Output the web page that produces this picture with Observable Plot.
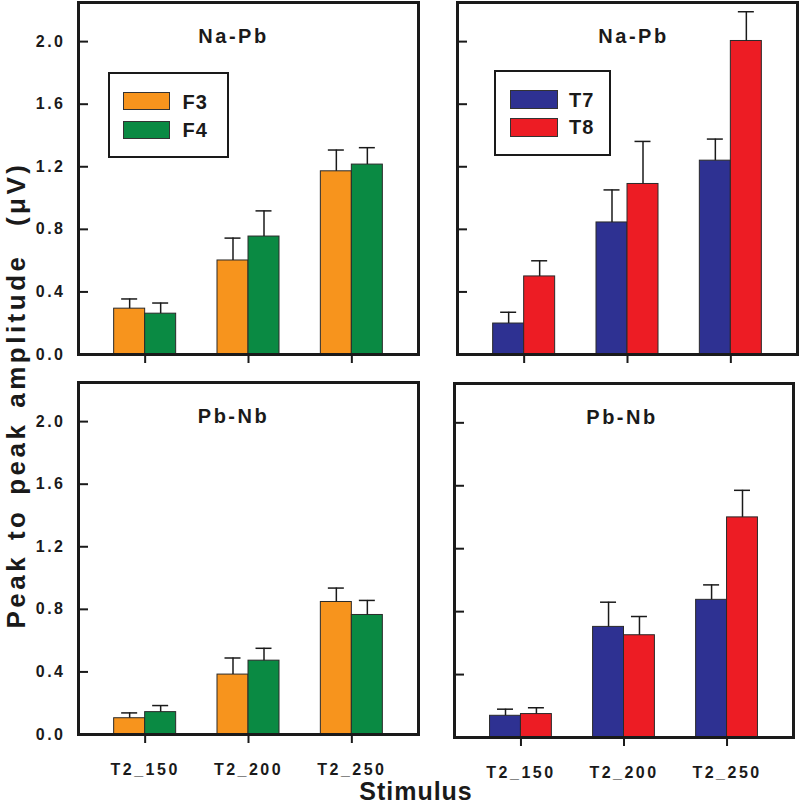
<!DOCTYPE html>
<html><head><meta charset="utf-8">
<script src="https://cdn.jsdelivr.net/npm/d3@7"></script>
<script src="https://cdn.jsdelivr.net/npm/@observablehq/plot@0.6"></script>
<style>
html,body{margin:0;padding:0;background:#fff;overflow:hidden}
#chart{position:relative;width:800px;height:807px;font-family:"Liberation Sans",Arial,sans-serif;color:#1a1a1a;overflow:hidden}
.panel{position:absolute}
.panel svg{max-width:none;display:block}
.panel svg text{letter-spacing:2.5px}
.legend{position:absolute;box-sizing:border-box;border:2.5px solid #1a1a1a;background:#fff}
.sw{position:absolute;box-sizing:border-box;border:1px solid #333}
.lab{position:absolute;font-size:20px;font-weight:bold;line-height:20px;letter-spacing:1px;white-space:nowrap}
.ytitle{position:absolute;width:600px;height:30px;line-height:30px;text-align:center;font-size:26px;font-weight:bold;letter-spacing:3.5px;word-spacing:3px;white-space:pre;transform:rotate(-90deg)}
.xtitle{position:absolute;width:200px;height:20px;line-height:20px;text-align:center;font-size:25px;font-weight:bold;letter-spacing:1px}
</style></head><body><div id="chart"></div><script>
// ---- data ----
const stimuli = ["T2_150", "T2_200", "T2_250"];
const yTicks = [0, 0.4, 0.8, 1.2, 1.6, 2.0];
const frontalSeries = ["F3", "F4"];
const temporalSeries = ["T7", "T8"];
const frontalColors = ["#F7941D", "#0A8A43"];
const temporalColors = ["#2E3192", "#ED1C24"];
const rowTitles = ["Na-Pb", "Pb-Nb"];

// Na-Pb (top row)
const naPbF3 = [0.293, 0.601, 1.171];
const naPbF3Err = [0.062, 0.143, 0.136];
const naPbF4 = [0.261, 0.754, 1.214];
const naPbF4Err = [0.068, 0.164, 0.108];
const naPbT7 = [0.198, 0.844, 1.239];
const naPbT7Err = [0.072, 0.208, 0.138];
const naPbT8 = [0.499, 1.090, 2.004];
const naPbT8Err = [0.100, 0.272, 0.187];
// Pb-Nb (bottom row)
const pbNbF3 = [0.104, 0.383, 0.847];
const pbNbF3Err = [0.034, 0.106, 0.089];
const pbNbF4 = [0.143, 0.472, 0.764];
const pbNbF4Err = [0.042, 0.079, 0.093];
const pbNbT7 = [0.138, 0.703, 0.875];
const pbNbT7Err = [0.042, 0.157, 0.095];
const pbNbT8 = [0.149, 0.650, 1.399];
const pbNbT8Err = [0.040, 0.119, 0.172];

function rows(seriesNames, valsA, errA, valsB, errB) {
  const out = [];
  stimuli.forEach((s, i) => {
    out.push({stim: s, series: seriesNames[0], value: valsA[i], err: errA[i]});
    out.push({stim: s, series: seriesNames[1], value: valsB[i], err: errB[i]});
  });
  return out;
}

const chart = document.getElementById("chart");
const yMax = 2.25;

function panel({data, seriesNames, colors, title, box, yLabels, xLabels, titleDx}) {
  const {left, top, w, h} = box;
  const mL = yLabels ? left : 3, mR = 3, mT = 2, mB = xLabels ? 52 : 14;
  const pi = 0.4, po = 0.345;
  const step = w / (stimuli.length - pi + 2 * po);
  const bw = step * (1 - pi);
  const half = bw / 2, q = bw / 4, capHalf = 8;
  const A = data.filter(d => d.series === seriesNames[0]);
  const B = data.filter(d => d.series === seriesNames[1]);
  const ink = "#1a1a1a";
  const plot = Plot.plot({
    width: mL + w + mR, height: mT + h + mB,
    marginLeft: mL, marginRight: mR, marginTop: mT, marginBottom: mB,
    style: {background: "transparent", color: ink, fontFamily: '"Liberation Sans", Arial, sans-serif', overflow: "visible"},
    x: {domain: stimuli, paddingInner: pi, paddingOuter: po, round: false, axis: null},
    y: {domain: [0, yMax], axis: null},
    color: {domain: seriesNames, range: colors},
    marks: [
      Plot.barY(A, {x: "stim", y: "value", fill: "series", insetRight: half, stroke: "#2a2a2a", strokeWidth: 1}),
      Plot.barY(B, {x: "stim", y: "value", fill: "series", insetLeft: half, stroke: "#2a2a2a", strokeWidth: 1}),
      Plot.ruleX(A, {x: "stim", y1: "value", y2: d => d.value + d.err, dx: -q, stroke: ink, strokeWidth: 1.5}),
      Plot.ruleX(B, {x: "stim", y1: "value", y2: d => d.value + d.err, dx: q, stroke: ink, strokeWidth: 1.5}),
      Plot.tickY(A, {x: "stim", y: d => d.value + d.err, insetLeft: q - capHalf, insetRight: 3 * q - capHalf, stroke: ink, strokeWidth: 1.5}),
      Plot.tickY(B, {x: "stim", y: d => d.value + d.err, insetLeft: 3 * q - capHalf, insetRight: q - capHalf, stroke: ink, strokeWidth: 1.5}),
      Plot.ruleY(yTicks, {y: d => d, insetRight: w - 10, stroke: ink, strokeWidth: 2}),
      Plot.axisX({tickSize: 9, strokeWidth: 2, tickPadding: 20, tickFormat: xLabels ? (d => d) : (() => ""), fontSize: 16, fontWeight: "bold", label: null}),
      yLabels ? Plot.axisY(yTicks, {tickSize: 0, tickPadding: 13, tickFormat: d3.format(".1f"), fontSize: 16, fontWeight: "bold", label: null}) : null,
      Plot.text([title], {frameAnchor: "top", dy: 26.6, dx: titleDx, fontSize: 20, fontWeight: "bold", fill: ink}),
      Plot.frame({stroke: ink, strokeWidth: 3})
    ]
  });
  const div = document.createElement("div");
  div.className = "panel";
  div.style.left = (left - mL) + "px";
  div.style.top = (top - mT) + "px";
  div.appendChild(plot);
  chart.appendChild(div);
}

panel({data: rows(frontalSeries, naPbF3, naPbF3Err, naPbF4, naPbF4Err), seriesNames: frontalSeries, colors: frontalColors,
  title: rowTitles[0], box: {left: 78, top: 2, w: 340, h: 352}, yLabels: true, xLabels: false, titleDx: -15});
panel({data: rows(temporalSeries, naPbT7, naPbT7Err, naPbT8, naPbT8Err), seriesNames: temporalSeries, colors: temporalColors,
  title: rowTitles[0], box: {left: 457, top: 2, w: 340, h: 352}, yLabels: false, xLabels: false, titleDx: 6});
panel({data: rows(frontalSeries, pbNbF3, pbNbF3Err, pbNbF4, pbNbF4Err), seriesNames: frontalSeries, colors: frontalColors,
  title: rowTitles[1], box: {left: 78, top: 382, w: 340, h: 352}, yLabels: true, xLabels: true, titleDx: -15});
panel({data: rows(temporalSeries, pbNbT7, pbNbT7Err, pbNbT8, pbNbT8Err), seriesNames: temporalSeries, colors: temporalColors,
  title: rowTitles[1], box: {left: 454, top: 383, w: 339, h: 354}, yLabels: false, xLabels: true, titleDx: -2});

// legends (inside top panels)
function legend(box, swatches, labels, names, colors) {
  const lg = document.createElement("div");
  lg.className = "legend";
  Object.assign(lg.style, {left: box.x + "px", top: box.y + "px", width: box.w + "px", height: box.h + "px"});
  chart.appendChild(lg);
  names.forEach((n, i) => {
    const sw = document.createElement("div");
    sw.className = "sw";
    Object.assign(sw.style, {left: swatches.x + "px", top: swatches.y[i] + "px", width: swatches.w + "px", height: swatches.h + "px", background: colors[i]});
    chart.appendChild(sw);
    const lb = document.createElement("div");
    lb.className = "lab";
    lb.textContent = n;
    Object.assign(lb.style, {left: labels.x + "px", top: labels.y[i] + "px"});
    chart.appendChild(lb);
  });
}
legend({x: 108, y: 72, w: 121, h: 86}, {x: 123, y: [92, 120.5], w: 47, h: 18}, {x: 182.5, y: [92, 119.8]}, frontalSeries, frontalColors);
legend({x: 494, y: 70, w: 117, h: 86}, {x: 510, y: [89.5, 117.7], w: 48, h: 19}, {x: 569, y: [89.8, 117.4]}, temporalSeries, temporalColors);

// axis titles
const yt = document.createElement("div");
yt.className = "ytitle";
yt.textContent = "Peak to peak amplitude  (\u03BCV)";
Object.assign(yt.style, {left: (16 - 300) + "px", top: (395 - 15) + "px"});
chart.appendChild(yt);
const xt = document.createElement("div");
xt.className = "xtitle";
xt.textContent = "Stimulus";
Object.assign(xt.style, {left: (416 - 100) + "px", top: "781px"});
chart.appendChild(xt);
</script></body></html>
